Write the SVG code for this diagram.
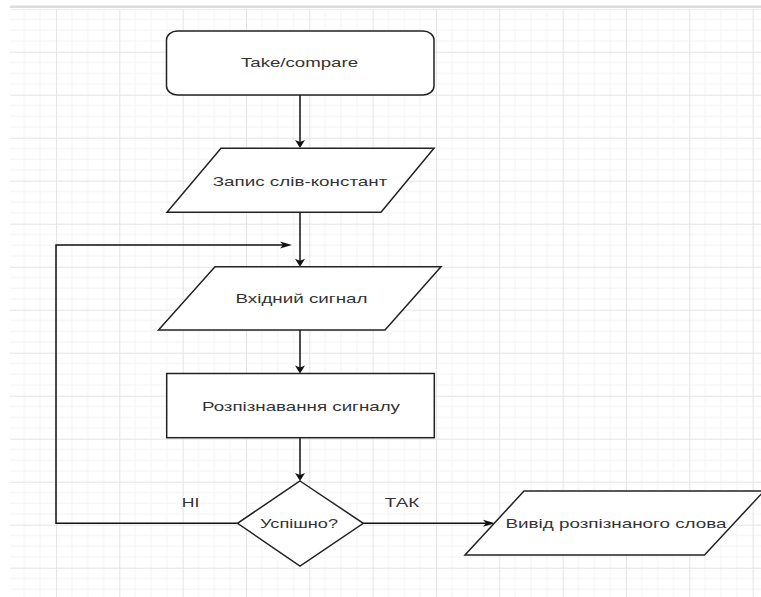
<svg xmlns="http://www.w3.org/2000/svg" width="761" height="597" viewBox="0 0 761 597">
  <style>
    .shape { fill: #ffffff; stroke: #222222; stroke-width: 1.5; }
    .conn { fill: none; stroke: #111111; stroke-width: 1.5; }
    .t { font-family: "Liberation Sans", Arial, sans-serif; font-size: 13.5px; fill: #333333; text-anchor: middle; }
    .maj { stroke: #e4e4e4; stroke-width: 1; }
    .min { stroke: #f3f3f3; stroke-width: 1; }
  </style>
  <defs>
    <pattern id="grid" patternUnits="userSpaceOnUse" x="-7.33" y="8.7" width="63.33" height="43">
      <line class="min" x1="15.83" y1="0" x2="15.83" y2="43"/>
      <line class="min" x1="31.67" y1="0" x2="31.67" y2="43"/>
      <line class="min" x1="47.5" y1="0" x2="47.5" y2="43"/>
      <line class="min" x1="0" y1="10.75" x2="63.33" y2="10.75"/>
      <line class="min" x1="0" y1="21.5" x2="63.33" y2="21.5"/>
      <line class="min" x1="0" y1="32.25" x2="63.33" y2="32.25"/>
      <line class="maj" x1="0.5" y1="0" x2="0.5" y2="43"/>
      <line class="maj" x1="0" y1="0.5" x2="63.33" y2="0.5"/>
    </pattern>
    <marker id="arrV" viewBox="-10 -6 16 12" markerWidth="16" markerHeight="12" refX="0" refY="0" markerUnits="userSpaceOnUse" orient="auto">
      <path d="M4,0 L-4,-5 L-2,0 L-4,5 Z" fill="#111111"/>
    </marker>
    <marker id="arrH" viewBox="-10 -6 16 12" markerWidth="16" markerHeight="12" refX="0" refY="0" markerUnits="userSpaceOnUse" orient="auto">
      <path d="M4,0 L-8,-3.5 L-5,0 L-8,3.5 Z" fill="#111111"/>
    </marker>
  </defs>

  <rect x="0" y="0" width="761" height="597" fill="#ffffff"/>
  <rect x="10" y="9" width="751" height="588" fill="url(#grid)"/>
  <rect x="10" y="5.5" width="751" height="2.5" fill="#dcdcdc"/>

  <g id="connectors">
    <path class="conn" d="M300,95 V144" marker-end="url(#arrV)"/>
    <path class="conn" d="M300,212.3 V262.7" marker-end="url(#arrV)"/>
    <path class="conn" d="M300,330 V369.5" marker-end="url(#arrV)"/>
    <path class="conn" d="M300,437.7 V477" marker-end="url(#arrV)"/>
    <path class="conn" d="M237.5,523.3 H56 V245 H288" marker-end="url(#arrH)"/>
    <path class="conn" d="M363.3,523.3 H491" marker-end="url(#arrH)"/>
    <text class="t" x="190.5" y="507.3" textLength="17.6" lengthAdjust="spacingAndGlyphs">НІ</text>
    <text class="t" x="402" y="506.7" textLength="34.3" lengthAdjust="spacingAndGlyphs">ТАК</text>
  </g>

  <g id="start">
    <rect class="shape" x="166.5" y="31" width="267.5" height="64" rx="11" ry="9"/>
    <text class="t" x="299.5" y="67" textLength="117" lengthAdjust="spacingAndGlyphs">Take/compare</text>
  </g>

  <g id="constants">
    <polygon class="shape" points="221,148.3 434,148.3 381,212.3 167,212.3"/>
    <text class="t" x="300" y="185.7" textLength="174.6" lengthAdjust="spacingAndGlyphs">Запис слів-констант</text>
  </g>

  <g id="input">
    <polygon class="shape" points="215,266.7 441,266.7 385,330 158.5,330"/>
    <text class="t" x="301.5" y="303" textLength="132" lengthAdjust="spacingAndGlyphs">Вхідний сигнал</text>
  </g>

  <g id="recognize">
    <rect class="shape" x="166.7" y="373.5" width="267.6" height="64.2"/>
    <text class="t" x="301" y="410.7" textLength="198" lengthAdjust="spacingAndGlyphs">Розпізнавання сигналу</text>
  </g>

  <g id="decision">
    <polygon class="shape" points="300,481 363.3,523.3 300,566 237.5,523.3"/>
    <text class="t" x="299" y="528" textLength="78" lengthAdjust="spacingAndGlyphs">Успішно?</text>
  </g>

  <g id="output">
    <polygon class="shape" points="524,491 764,491 704.5,555 465,555"/>
    <text class="t" x="616" y="527.7" textLength="221" lengthAdjust="spacingAndGlyphs">Вивід розпізнаного слова</text>
  </g>
</svg>
